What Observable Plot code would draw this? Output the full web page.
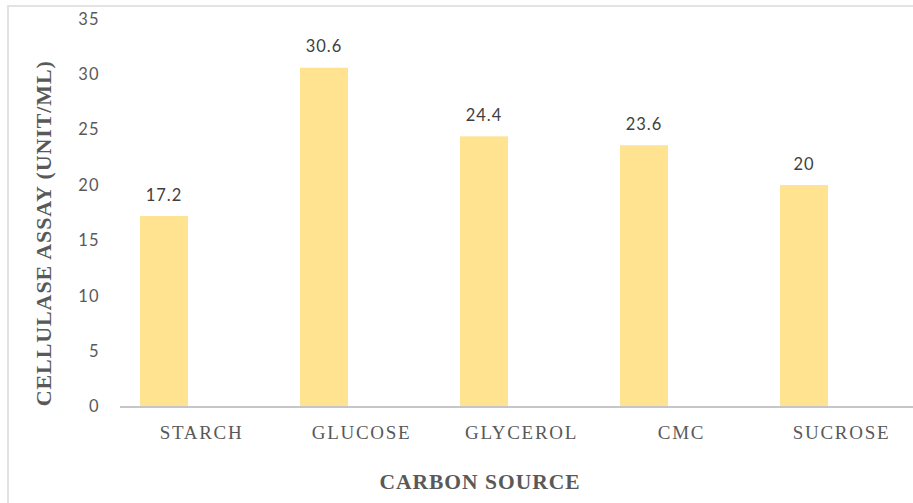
<!DOCTYPE html>
<html>
<head>
<meta charset="utf-8">
<script src="https://cdn.jsdelivr.net/npm/d3@7"></script>
<script src="https://cdn.jsdelivr.net/npm/@observablehq/plot@0.6"></script>
<style>
  html, body { margin: 0; padding: 0; background: #fff; overflow: hidden; }
  #wrap { position: relative; width: 913px; height: 503px; }
  #border { position: absolute; left: 7px; top: 5px; width: 940px; height: 540px;
            border: 2px solid #e3e3e3; box-sizing: border-box; pointer-events: none; }
  #chart svg g[aria-label="x-axis tick label"] text { letter-spacing: 1.7px; }
  #chart svg g[aria-label="y-axis tick label"] text { letter-spacing: 1px; }
  #chart svg g.value-labels text { letter-spacing: 1px; }
  #chart svg g.x-title text { letter-spacing: 1px; }
  #chart svg g.y-title text { letter-spacing: 0.9px; }
</style>
</head>
<body>
<div id="wrap">
  <div id="chart"></div>
  <div id="border"></div>
</div>
<script>
// Cellulase activity by carbon source
const sources = ["STARCH", "GLUCOSE", "GLYCEROL", "CMC", "SUCROSE"];
const activity = [17.2, 30.6, 24.4, 23.6, 20];
const yTicks = [0, 5, 10, 15, 20, 25, 30, 35];
const xTitle = "CARBON SOURCE";
const yTitle = "CELLULASE ASSAY (UNIT/ML)";

const rows = sources.map((s, i) => ({source: s, value: activity[i]}));

const serif = "'Liberation Serif', 'Times New Roman', serif";
const sans = "Lato, 'Open Sans', sans-serif";

const chart = Plot.plot({
  width: 913,
  height: 503,
  marginLeft: 120,
  marginRight: 0,
  marginTop: 19,
  marginBottom: 96.5,
  x: {type: "band", domain: sources, range: [120, 922.5], padding: 0},
  y: {domain: [0, 35]},
  marks: [
    Plot.barY(rows, {x: "source", y: "value", fill: "#ffe391", insetLeft: 19, insetRight: 93}),
    Plot.ruleY([0], {stroke: "#c6c6c6", strokeWidth: 2}),
    Plot.text(rows, {
      x: "source", y: "value", text: d => String(d.value),
      dx: -37.5, dy: -21, fill: "#404040", fontSize: 16.5, fontFamily: sans,
      className: "value-labels"
    }),
    Plot.axisY(yTicks, {
      tickSize: 0, tickPadding: 21, label: null,
      fontSize: 16.5, fontFamily: sans, fill: "#595959"
    }),
    Plot.axisX({
      tickSize: 0, tickPadding: 18, label: null,
      fontSize: 19, fontFamily: serif, fill: "#595959"
    }),
    Plot.text([xTitle], {
      frameAnchor: "bottom", textAnchor: "middle", lineAnchor: "middle",
      dx: -37, dy: 75.5,
      fontSize: 21.5, fontWeight: "bold", fontFamily: serif, fill: "#595959",
      className: "x-title"
    }),
    Plot.text([yTitle], {
      frameAnchor: "left", textAnchor: "middle", lineAnchor: "middle",
      rotate: -90, dx: -77, dy: 20,
      fontSize: 22, fontWeight: "bold", fontFamily: serif, fill: "#595959",
      className: "y-title"
    })
  ]
});

document.getElementById("chart").appendChild(chart);
</script>
</body>
</html>
